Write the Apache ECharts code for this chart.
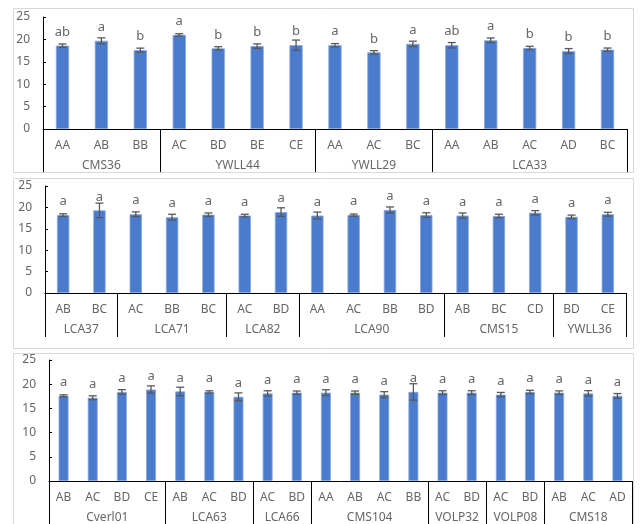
<!DOCTYPE html>
<html>
<head>
<meta charset="utf-8">
<script src="https://cdn.jsdelivr.net/npm/echarts@6/dist/echarts.min.js"></script>
<style>html,body{margin:0;padding:0;background:#fff;}#c{width:640px;height:524px;}</style>
</head>
<body>
<div id="c"></div>
<script>
// Panel 1
const groups1 = ['CMS36','YWLL44','YWLL29','LCA33'];
const groupSizes1 = [3,4,3,5];
const genotypes1 = ['AA','AB','BB','AC','BD','BE','CE','AA','AC','BC','AA','AB','AC','AD','BC'];
const means1 = [18.6,19.7,17.6,21.0,18.0,18.5,18.7,18.7,17.1,19.0,18.7,19.8,18.1,17.4,17.7];
const errs1 = [0.37,0.65,0.45,0.27,0.37,0.5,1.15,0.37,0.4,0.6,0.6,0.52,0.37,0.55,0.37];
const letters1 = ['ab','a','b','a','b','b','b','a','b','a','ab','a','b','b','b'];
// Panel 2
const groups2 = ['LCA37','LCA71','LCA82','LCA90','CMS15','YWLL36'];
const groupSizes2 = [2,3,2,4,3,2];
const genotypes2 = ['AB','BC','AC','BB','BC','AC','BD','AA','AC','BB','BD','AB','BC','CD','BD','CE'];
const means2 = [18.2,19.3,18.4,17.7,18.3,18.1,18.9,18.1,18.2,19.4,18.2,18.1,18.0,18.75,17.8,18.4];
const errs2 = [0.3,1.7,0.55,0.7,0.4,0.3,1.0,0.8,0.25,0.7,0.55,0.6,0.4,0.5,0.4,0.45];
const letters2 = ['a','a','a','a','a','a','a','a','a','a','a','a','a','a','a','a'];
// Panel 3
const groups3 = ['Cverl01','LCA63','LCA66','CMS104','VOLP32','VOLP08','CMS18'];
const groupSizes3 = [4,3,2,4,2,2,3];
const genotypes3 = ['AB','AC','BD','CE','AB','AC','BD','AC','BD','AA','AB','AC','BB','AC','BD','AC','BD','AB','AC','AD'];
const means3 = [17.6,17.2,18.4,18.9,18.5,18.4,17.4,18.1,18.25,18.25,18.25,17.85,18.4,18.25,18.25,17.85,18.4,18.25,18.1,17.6];
const errs3 = [0.2,0.4,0.47,0.75,0.88,0.24,0.8,0.54,0.34,0.6,0.34,0.6,1.7,0.4,0.4,0.45,0.34,0.37,0.57,0.47];
const letters3 = ['a','a','a','a','a','a','a','a','a','a','a','a','a','a','a','a','a','a','a','a'];
const yTicks = [0,5,10,15,20,25];

const FONT = 'Noto Sans';
const GRAY = '#666666';
const panels = [
  {groups:groups1, sizes:groupSizes1, cats:genotypes1, means:means1, errs:errs1, letters:letters1,
   grid:{left:43, top:17, width:584, height:112}, tickLen:43},
  {groups:groups2, sizes:groupSizes2, cats:genotypes2, means:means2, errs:errs2, letters:letters2,
   grid:{left:45, top:186, width:581, height:107}, tickLen:44},
  {groups:groups3, sizes:groupSizes3, cats:genotypes3, means:means3, errs:errs3, letters:letters3,
   grid:{left:49, top:360, width:583, height:123}, tickLen:50}
];

const grid = [], xAxis = [], yAxis = [], series = [];
panels.forEach((p, k) => {
  grid.push(Object.assign({containLabel:false}, p.grid));
  const starts = {};
  const centers = [];
  let acc = 0;
  p.sizes.forEach((s, gi) => { starts[acc] = true; centers.push({c: acc + s/2, name: p.groups[gi]}); acc += s; });
  const N = acc;
  xAxis.push({
    type:'category', gridIndex:k, data:p.cats, position:'bottom',
    axisLine:{show:true, lineStyle:{color:'#000', width:1}},
    axisTick:{show:true, length:p.tickLen, interval:(i)=>!!starts[i], lineStyle:{color:'#000', width:1}},
    axisLabel:{interval:0, color:GRAY, fontSize:12, fontFamily:FONT, margin:11},
    splitLine:{show:false}
  });
  xAxis.push({
    type:'value', gridIndex:k, position:'bottom', offset:23, min:0, max:N, interval:0.5,
    axisLine:{show:false}, axisTick:{show:false}, splitLine:{show:false},
    axisLabel:{color:GRAY, fontSize:12, fontFamily:FONT, margin:8, showMinLabel:true, showMaxLabel:true,
      formatter:(v)=>{ const f = centers.find(o=>Math.abs(o.c - v) < 1e-6); return f ? f.name : ''; }}
  });
  yAxis.push({
    type:'value', gridIndex:k, min:yTicks[0], max:yTicks[yTicks.length-1], interval:5,
    axisLine:{show:true, lineStyle:{color:'#000', width:1}},
    axisTick:{show:true, inside:true, length:3, lineStyle:{color:'#000'}},
    axisLabel:{color:GRAY, fontSize:12, fontFamily:FONT, margin:13},
    splitLine:{show:false}
  });
  series.push({
    type:'bar', xAxisIndex:2*k, yAxisIndex:k, data:p.means, barWidth:'34%',
    itemStyle:{color:'#4a7bcc', borderColor:'#86a7e0', borderWidth:0.8},
    label:{show:true, position:'top', distance:7, color:GRAY, fontSize:13, fontFamily:FONT,
      formatter:(pr)=>p.letters[pr.dataIndex]},
    silent:true, animation:false
  });
  series.push({
    type:'custom', xAxisIndex:2*k, yAxisIndex:k, z:5, animation:false, silent:true,
    data:p.means.map((m,i)=>[i, m, p.errs[i]]),
    encode:{x:0, y:1},
    renderItem:(params, api)=>{
      const x = api.value(0), v = api.value(1), e = api.value(2);
      const t = api.coord([x, v+e]), b = api.coord([x, v-e]);
      const hw = 4, st = {stroke:'#595959', lineWidth:1.3};
      return {type:'group', children:[
        {type:'line', shape:{x1:t[0], y1:t[1], x2:b[0], y2:b[1]}, style:st},
        {type:'line', shape:{x1:t[0]-hw, y1:t[1], x2:t[0]+hw, y2:t[1]}, style:st},
        {type:'line', shape:{x1:b[0]-hw, y1:b[1], x2:b[0]+hw, y2:b[1]}, style:st}
      ]};
    }
  });
});

const chart = echarts.init(document.getElementById('c'), null, {renderer:'canvas'});
chart.setOption({
  backgroundColor:'#fff',
  animation:false,
  textStyle:{fontFamily:FONT},
  graphic:[
    {type:'rect', shape:{x:13.5, y:8.5, width:620, height:164}, style:{fill:'none', stroke:'#d9d9d9', lineWidth:1}, z:-1},
    {type:'rect', shape:{x:13.5, y:178.5, width:620, height:170}, style:{fill:'none', stroke:'#d9d9d9', lineWidth:1}, z:-1},
    {type:'rect', shape:{x:13.5, y:353.5, width:620, height:190}, style:{fill:'none', stroke:'#d9d9d9', lineWidth:1}, z:-1}
  ],
  grid, xAxis, yAxis, series
});
</script>
</body>
</html>
